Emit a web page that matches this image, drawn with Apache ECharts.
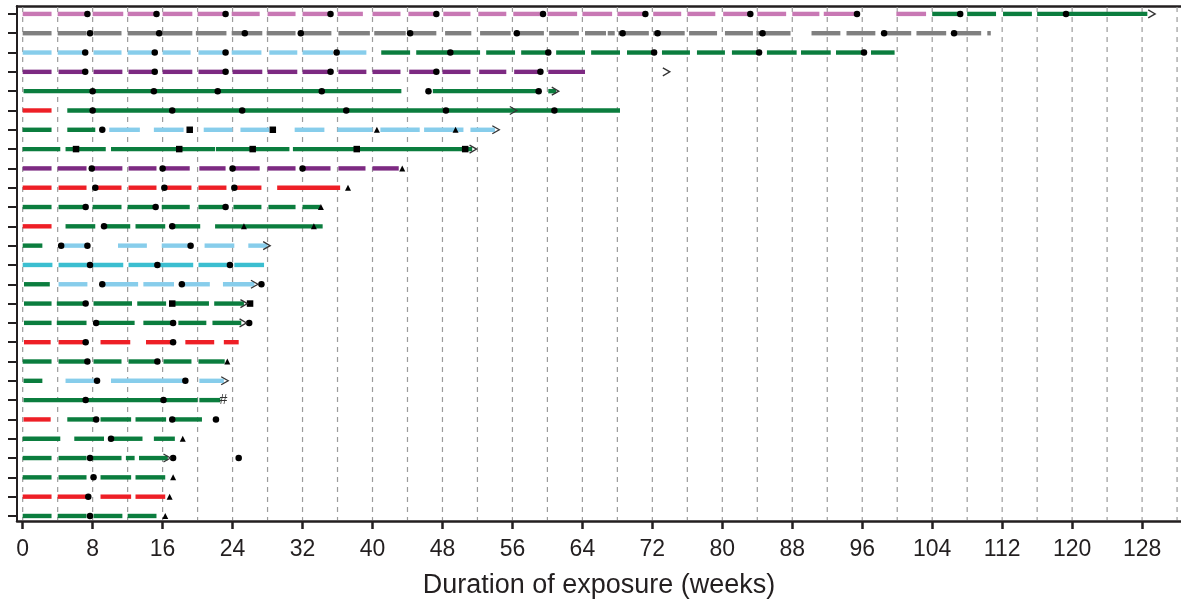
<!DOCTYPE html>
<html><head><meta charset="utf-8">
<script src="https://cdn.jsdelivr.net/npm/echarts@6/dist/echarts.min.js"></script>
<style>html,body{margin:0;padding:0;background:#fff}#c{width:1181px;height:603px}</style>
</head><body><div id="c"></div>
<script>
// ---------- data ----------
const xTickLabels = [0,8,16,24,32,40,48,56,64,72,80,88,96,104,112,120,128];
const gridWeeks = [0,4,8,12,16,20,24,28,32,36,40,44,48,52,56,60,64,68,72,76,80,84,88,92,96,100,104,108,112,116,120,124,128,132];
const rowIds = [1,2,3,4,5,6,7,8,9,10,11,12,13,14,15,16,17,18,19,20,21,22,23,24,25,26,27];

// segments: [row, startWeek, endWeek]
const pinkSegs = [
 [27,0,3.3],[27,4,7.3],[27,8,11.5],[27,12,15.3],[27,16,19.4],[27,20,23.2],[27,23.9,27.1],[27,28,31.2],[27,32,35.2],[27,36,38.9],
 [27,40,43.2],[27,44.1,47.3],[27,48.1,51.2],[27,52.1,55.3],[27,56.1,59.5],[27,60,63.4],[27,64,67.4],[27,68,71.2],[27,72.1,75.3],
 [27,76,79.2],[27,80.1,83.2],[27,84,87.3],[27,88,91.1],[27,91.6,95.3],[27,99.9,103.3]
];
const graySegs = [
 [26,0,3.3],[26,4,7.3],[26,8.1,11.3],[26,12,15.3],[26,15.6,19.4],[26,19.8,23.3],[26,23.9,27.4],[26,27.9,31.2],[26,32,35.3],
 [26,36.1,39.7],[26,40.2,43.8],[26,44.3,47.3],[26,48.3,51.3],[26,52.3,55.8],[26,56.5,59.6],[26,60.2,63.6],[26,64.3,66.7],
 [26,66.9,67.7],[26,68.1,71.6],[26,72.1,75.7],[26,76.2,79.4],[26,80.3,83.5],[26,83.9,87.8],[26,90.2,93.5],[26,94.2,97.5],
 [26,98.4,101.6],[26,102.2,105.6],[26,106.3,109.6],[26,110.3,110.7]
];
const lightBlueSegs = [
 [25,0,3.3],[25,4,7.3],[25,8.1,11.3],[25,12,15.3],[25,16,19.2],[25,20.1,23.3],[25,23.9,27.3],[25,28.2,31.4],[25,32,35.5],[25,36.1,39.3],
 [21,9.9,13.4],[21,15,18.4],[21,20.7,24],[21,24.9,28.2],[21,31.1,34.5],[21,36,40],[21,40.9,45.4],[21,45.9,50.4],[21,51.2,54],
 [15,4.4,7.4],[15,10.9,14.2],[15,15.9,19.2],[15,20.8,24.2],[15,25.8,28],
 [13,4.1,7.4],[13,9.1,13.2],[13,13.8,17.3],[13,18.1,21.4],[13,22.9,26.5],
 [8,4.9,8.2],[8,10.1,18.6],[8,20.2,23]
];
const purpleSegs = [
 [24,0,3.3],[24,4.1,7.3],[24,8.1,11.4],[24,12.1,15.3],[24,16,19.4],[24,20.1,23.3],[24,24,27.4],[24,28,31.4],[24,32,35.5],
 [24,36.1,39.3],[24,40,43.2],[24,44.2,47.3],[24,48,51.2],[24,52.2,55.3],[24,56.2,59.5],[24,60.1,64.3],
 [19,0,3.3],[19,4,7.3],[19,8.1,11.4],[19,12.1,15.3],[19,16,19.1],[19,20.2,23.2],[19,24,27.1],[19,28,31.2],[19,32,35.2],
 [19,36.1,39.2],[19,40,43]
];
const greenSegs = [
 [27,104,107.5],[27,108,111.3],[27,112.1,115.4],[27,116,128.6],
 [25,41,44.3],[25,45,52.3],[25,53,56.3],[25,57,60.1],[25,61,64.3],[25,65,68.3],[25,69.1,72.2],[25,73.1,76.3],[25,77.1,80.3],
 [25,81.1,84.1],[25,85.1,88.5],[25,89,92.4],[25,93,96.1],[25,97,99.7],
 [23,0.1,43.3],[23,46.9,58.9],[23,60.1,61],
 [22,5.1,68.3],
 [21,0,3.3],[21,5.1,8.3],
 [20,0,4.3],[20,4.9,9.5],[20,10.1,22],[20,22.1,30.5],[20,30.9,51.4],
 [17,0,3.3],[17,4.1,7.2],[17,8,11.3],[17,12,14.9],[17,15.9,19.1],[17,20.1,23.2],[17,24.1,27.3],[17,28.1,31.2],[17,32,34],
 [16,4.9,8.3],[16,9.2,12.3],[16,12.9,16.3],[16,17.1,20.3],[16,22,34.3],
 [15,0,2.25],
 [13,0.15,3.1],
 [12,0.15,3.3],[12,3.9,7.2],[12,8.1,12.5],[12,13.1,16.4],[12,17.1,21.3],[12,21.9,25.3],
 [11,0.15,3.3],[11,3.9,7.3],[11,8.4,12.8],[11,13.8,17.4],[11,17.8,21],[11,21.7,25],
 [9,0,3.3],[9,4.1,7.3],[9,8.1,11.3],[9,12.1,15.3],[9,16.1,19.3],[9,20.1,23.1],
 [8,0.1,2.25],
 [7,0.1,20],[7,20.2,22.6],
 [6,5.1,8.3],[6,8.9,12.4],[6,12.9,16.4],[6,17.1,20.5],
 [5,0,4.3],[5,5.9,9.3],[5,10.1,13.7],[5,15,17.4],
 [4,0,3.3],[4,4.1,7.3],[4,7.7,11.3],[4,11.8,12.8],[4,13.3,16.6],
 [3,0,3.3],[3,4.1,7.3],[3,8.9,12.4],[3,12.9,16.3],
 [1,0,3.3],[1,4,7.3],[1,8.1,11.4],[1,12,15.3]
];
const redSegs = [
 [22,0,3.3],
 [18,0,3.3],[18,4.1,7.3],[18,8.3,11.3],[18,12.1,15.3],[18,16.1,19.3],[18,20.1,23.3],[18,24.1,27.3],[18,29.1,36.3],
 [16,0,3.3],
 [10,0.15,3.2],[10,4.1,7.1],[10,8.9,12.3],[10,14.1,17],[10,18.6,21.9],[10,23,24.7],
 [6,0.1,3.2],
 [2,0,3.3],[2,4,7.3],[2,8.9,12.4],[2,12.9,16.3]
];
const cyanSegs = [
 [14,0,3.4],[14,4.1,11.5],[14,12.1,15.3],[14,15.4,19.5],[14,20.1,23.6],[14,24.2,27.6]
];

// markers: [row, week]
const dots = [
 [27,7.4],[27,15.3],[27,23.2],[27,35.2],[27,47.3],[27,59.5],[27,71.2],[27,83.2],[27,95.4],[27,107.2],[27,119.3],
 [26,7.7],[26,15.6],[26,25.4],[26,31.8],[26,44.3],[26,56.5],[26,68.6],[26,72.6],[26,84.6],[26,98.5],[26,106.5],
 [25,7.15],[25,15.1],[25,23.2],[25,35.9],[25,48.9],[25,60.1],[25,72.2],[25,84.2],[25,96.2],
 [24,7.15],[24,15.1],[24,23.2],[24,35.2],[24,47.3],[24,59.2],
 [23,8],[23,15],[23,22.3],[23,34.2],[23,46.4],[23,59],
 [22,8],[22,17.1],[22,25.1],[22,37],[22,48.4],[22,60.8],
 [21,9.1],
 [19,7.9],[19,16],[19,24],[19,32],
 [18,8.3],[18,16.2],[18,24.2],
 [17,7.2],[17,15.2],[17,23.2],
 [16,9.3],[16,17.1],
 [15,4.4],[15,7.4],[15,19.2],
 [14,7.7],[14,15.4],[14,23.7],
 [13,9.1],[13,18.2],[13,27.3],
 [12,7.2],
 [11,8.4],[11,17.2],[11,25.9],
 [10,7.2],[10,17.2],
 [9,7.4],[9,15.4],
 [8,8.5],[8,18.6],
 [7,7.2],[7,16.1],
 [6,8.4],[6,17.1],[6,22.1],
 [5,10.1],
 [4,7.7],[4,17.2],[4,24.7],
 [3,8.1],
 [2,7.5],
 [1,7.7]
];
const squares = [[21,19.1],[21,28.6],[20,6.1],[20,17.9],[20,26.3],[20,38.2],[20,50.6],[12,17.1],[12,26]];
const triangles = [[21,40.5],[21,49.5],[19,43.4],[18,37.2],[17,34.1],[16,25.3],[16,33.3],[9,23.4],[5,18.3],[3,17.2],[2,16.8],[1,16.3]];
const arrows = [[27,129.5],[24,74],[23,61.3],[22,56.5],[21,54.5],[20,51.9],[15,28.3],[13,26.9],[12,25.7],[11,25.6],[8,23.5],[4,16.9]];
const hashes = [[7,22.95]];

// ---------- chart ----------
const Y_MIN = 0.74, Y_MAX = 27.41;
const FONT = 'Liberation Sans, Arial, Helvetica, sans-serif';
const chart = echarts.init(document.getElementById('c'), null, {renderer: 'canvas'});

function segSeries(data, color) {
  return {
    type: 'custom', xAxisIndex: 0, yAxisIndex: 0, z: 3,
    encode: {x: [1, 2], y: 0},
    data: data,
    renderItem: function (params, api) {
      const r = api.value(0), s = api.value(1), e = api.value(2);
      const p1 = api.coord([s, r]), p2 = api.coord([e, r]);
      return {type: 'line', shape: {x1: p1[0], y1: p1[1], x2: p2[0], y2: p2[1]},
        style: {stroke: color, lineWidth: 4.4, lineCap: 'butt'}};
    }
  };
}
function swap(arr) { return arr.map(d => [d[1], d[0]]); }

const option = {
  animation: false,
  backgroundColor: '#fff',
  grid: {left: 17, right: 0, top: 6, bottom: 82, containLabel: false, outerBoundsMode: 'none'},
  xAxis: [{
    type: 'value', min: -0.65, max: 132.45, position: 'bottom',
    axisLine: {show: true, onZero: false, lineStyle: {color: '#231F20', width: 2.5}},
    axisTick: {show: true, customValues: xTickLabels, length: 8, inside: false, lineStyle: {color: '#231F20', width: 2.5}},
    axisLabel: {show: true, customValues: xTickLabels, fontSize: 23, color: '#231F20', margin: 17, fontFamily: FONT},
    splitLine: {show: false},
    name: 'Duration of exposure (weeks)', nameLocation: 'middle', nameGap: 51,
    nameTextStyle: {fontSize: 27, color: '#231F20', fontFamily: FONT}
  }, {
    type: 'value', min: -0.65, max: 132.45, position: 'top',
    axisLine: {show: true, onZero: false, lineStyle: {color: '#231F20', width: 2.5}},
    axisTick: {show: false}, axisLabel: {show: false}, splitLine: {show: false}
  }],
  yAxis: {
    type: 'value', min: Y_MIN, max: Y_MAX,
    axisLine: {show: true, onZero: false, lineStyle: {color: '#231F20', width: 2}},
    axisTick: {show: true, customValues: rowIds, length: 9, inside: false, lineStyle: {color: '#231F20', width: 2}},
    axisLabel: {show: false},
    splitLine: {show: false}
  },
  series: [
    {
      type: 'custom', z: 1, encode: {x: 0},
      data: gridWeeks.map(w => [w]),
      renderItem: function (params, api) {
        const w = api.value(0);
        const a = api.coord([w, Y_MAX]), b = api.coord([w, Y_MIN]);
        return {type: 'line', shape: {x1: a[0], y1: a[1] + 1, x2: b[0], y2: b[1] - 1},
          style: {stroke: '#9b9b9b', lineWidth: 1.2, lineDash: [5, 5]}};
      }
    },
    segSeries(pinkSegs, '#C878B4'),
    segSeries(graySegs, '#808080'),
    segSeries(lightBlueSegs, '#87CDEB'),
    segSeries(purpleSegs, '#7D2A82'),
    segSeries(greenSegs, '#0B7D3E'),
    segSeries(redSegs, '#EE1F26'),
    segSeries(cyanSegs, '#3BBED0'),
    {type: 'scatter', z: 5, symbol: 'circle', symbolSize: 6.5, itemStyle: {color: '#000', opacity: 1}, data: swap(dots)},
    {type: 'scatter', z: 5, symbol: 'rect', symbolSize: 6.5, itemStyle: {color: '#000', opacity: 1}, data: swap(squares)},
    {type: 'scatter', z: 5, symbol: 'triangle', symbolSize: 6, itemStyle: {color: '#000', opacity: 1}, data: swap(triangles)},
    {
      type: 'custom', z: 6, encode: {x: 1, y: 0}, data: arrows,
      renderItem: function (params, api) {
        const p = api.coord([api.value(1), api.value(0)]);
        return {type: 'polyline', shape: {points: [[p[0] - 7, p[1] - 4], [p[0], p[1]], [p[0] - 7, p[1] + 4]]},
          style: {stroke: '#333', lineWidth: 1.3, fill: null}};
      }
    },
    {
      type: 'custom', z: 6, encode: {x: 1, y: 0}, data: hashes,
      renderItem: function (params, api) {
        const p = api.coord([api.value(1), api.value(0)]);
        return {type: 'text', style: {text: '#', x: p[0], y: p[1], align: 'center', verticalAlign: 'middle',
          fontSize: 14, fill: '#333', fontFamily: FONT}};
      }
    }
  ]
};
chart.setOption(option);
</script>
</body></html>
